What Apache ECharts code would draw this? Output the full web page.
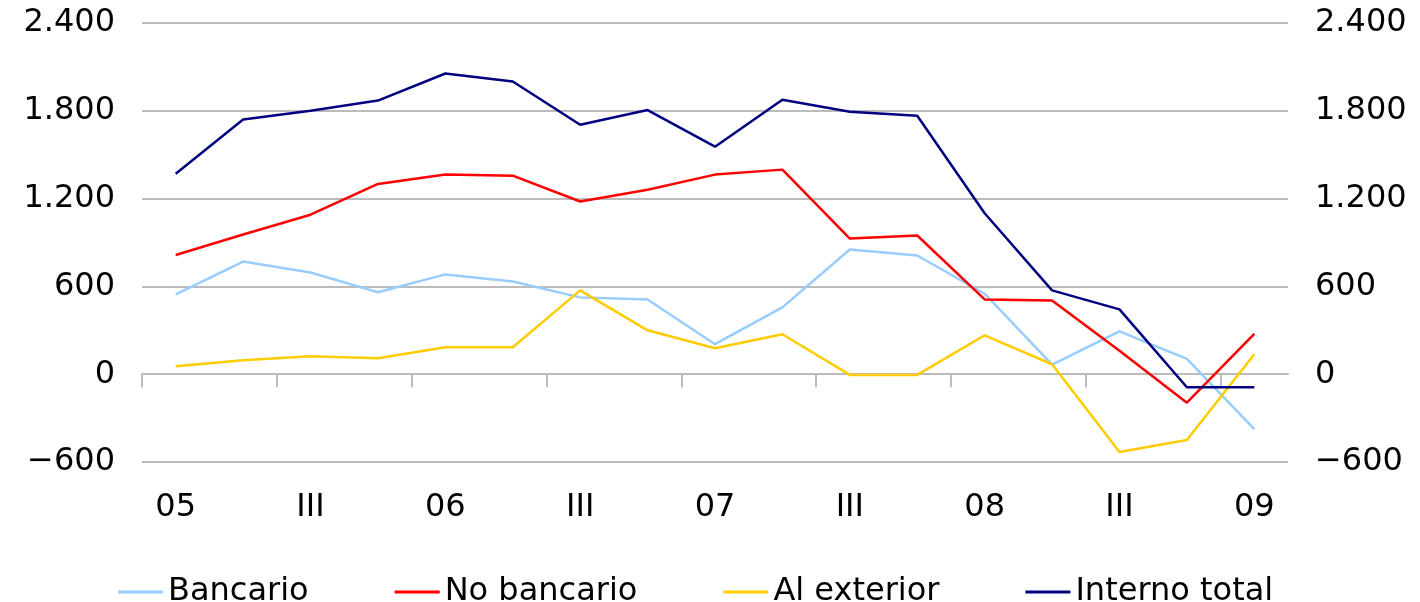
<!DOCTYPE html>
<html>
<head>
<meta charset="utf-8">
<script src="https://cdn.jsdelivr.net/npm/echarts@6/dist/echarts.min.js"></script>
<style>
  html, body { margin: 0; padding: 0; background: #fff; }
  #chart { width: 1420px; height: 602px; }
</style>
</head>
<body>
<div id="chart"></div>
<script>
// trimestres 2005-I a 2009-I
const quarters = ['05', 'II', 'III', 'IV', '06', 'II', 'III', 'IV', '07', 'II', 'III', 'IV', '08', 'II', 'III', 'IV', '09']
const yTicks = [-600, 0, 600, 1200, 1800, 2400]

const bancario = [545, 770, 695, 560, 682, 634, 525, 511, 205, 457, 852, 811, 550, 65, 293, 105, -375]
const noBancario = [815, 955, 1090, 1300, 1364, 1357, 1180, 1261, 1364, 1398, 927, 948, 511, 504, 160, -195, 275]
const alExterior = [55, 95, 123, 109, 184, 184, 573, 300, 177, 273, -5, -5, 266, 68, -532, -450, 136]
const internoTotal = [1370, 1740, 1800, 1870, 2055, 2000, 1705, 1805, 1555, 1875, 1793, 1766, 1100, 573, 443, -89, -89]

const chart = echarts.init(document.getElementById('chart'))

// formato con punto de miles y signo menos
function fmt (v) {
  const s = Math.abs(v).toString().replace(/\B(?=(\d{3})+(?!\d))/g, '.')
  return (v < 0 ? '\u2212' : '') + s
}

const labelFont = { fontFamily: 'DejaVu Sans', fontSize: 32, color: '#000' }

// marcas del eje en el cero: borde izquierdo de cada trimestre I y III
const zeroTicks = quarters.map((q, i) => i - 0.5).filter((v, i) => i % 2 === 0)

function yAxis (pos, grid) {
  return {
    type: 'value',
    position: pos,
    min: yTicks[0],
    max: yTicks[yTicks.length - 1],
    interval: 600,
    axisLine: { show: false },
    axisTick: { show: false },
    axisLabel: Object.assign({ margin: 27, formatter: fmt }, labelFont),
    splitLine: { show: grid, lineStyle: { color: '#bbbbbb', width: 2 } }
  }
}

function line (name, data, color) {
  return {
    name: name,
    type: 'line',
    data: data,
    symbol: 'none',
    lineStyle: { color: color, width: 2.5 },
    itemStyle: { color: color }
  }
}

chart.setOption({
  animation: false,
  grid: { left: 142, right: 132, top: 23, bottom: 140 },
  legend: {
    left: 118,
    top: 576,
    padding: 0,
    icon: 'rect',
    itemWidth: 45,
    itemHeight: 3,
    itemGap: 86,
    textStyle: labelFont,
    data: ['Bancario', 'No bancario', 'Al exterior', 'Interno total']
  },
  xAxis: [
    {
      type: 'category',
      position: 'bottom',
      data: quarters,
      axisLine: { show: false, onZero: false },
      axisTick: { show: false },
      axisLabel: Object.assign({ interval: 1, margin: 30 }, labelFont),
      splitLine: { show: false }
    },
    {
      // eje en el cero, solo marcas
      type: 'value',
      position: 'bottom',
      min: -0.5,
      max: quarters.length - 0.5,
      axisLine: { show: true, onZero: true, lineStyle: { color: '#bbbbbb', width: 2 } },
      axisTick: { show: true, customValues: zeroTicks, length: 13, lineStyle: { color: '#bbbbbb', width: 2 } },
      axisLabel: { show: false },
      splitLine: { show: false }
    }
  ],
  yAxis: [yAxis('left', true), yAxis('right', false)],
  series: [
    line('Bancario', bancario, '#99ccff'),
    line('No bancario', noBancario, '#ff0000'),
    line('Al exterior', alExterior, '#ffcc00'),
    line('Interno total', internoTotal, '#000080')
  ]
})
</script>
</body>
</html>
